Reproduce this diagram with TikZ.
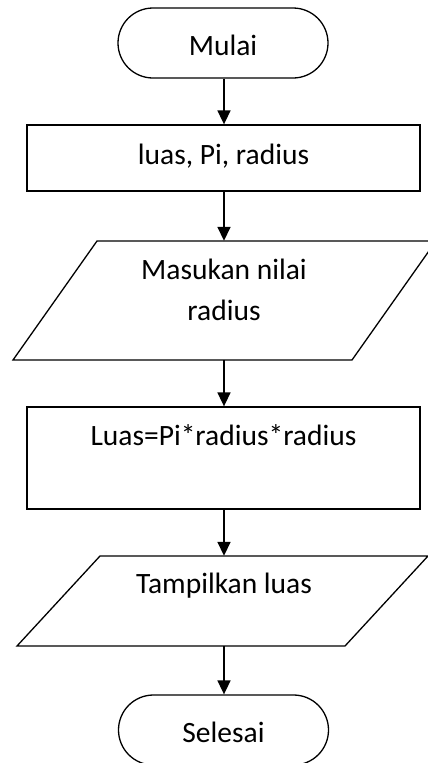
\documentclass[tikz,border=0pt]{standalone}
\usepackage{fontspec}
\setmainfont{Carlito}
\usetikzlibrary{arrows.meta}
\begin{document}
\begin{tikzpicture}[x=1pt,y=1pt,
  shape line/.style={draw=black,line width=1.3pt},
  term/.style={shape line,rectangle,rounded corners=35pt,minimum width=210pt,minimum height=70pt,inner sep=0pt},
  procbox/.style={shape line,rectangle,inner sep=0pt},
  ghost/.style={rectangle,inner sep=0pt},
  txt/.style={font=\fontsize{29.5}{41}\selectfont,align=center,inner sep=0pt},
  flow/.style={line width=1.7pt,-{Triangle[length=14pt,width=13pt]}}]
\useasboundingbox (0,0) rectangle (428,-763);
\clip (0,0) rectangle (428,-763);
\fill[white] (0,0) rectangle (428,-763);
% start
\node[term] (t1) at (223,-43) {};
\node[txt] at (223,-45) {Mulai};
% declaration
\node[procbox,minimum width=393pt,minimum height=66pt] (r1) at (223.5,-158) {};
\node[txt] at (223.5,-156) {luas, Pi, radius};
% input
\node[ghost,minimum width=339pt,minimum height=119pt] (p1) at (224,-300.5) {};
\draw[shape line] (97,-241) -- (436,-241) -- (352,-360) -- (13,-360) -- cycle;
\node[txt] at (224,-290) {Masukan nilai\\radius};
% process
\node[procbox,minimum width=393pt,minimum height=102pt] (r2) at (223.5,-458) {};
\node[txt] at (223.5,-435) {Luas=Pi*radius*radius};
% output
\node[ghost,minimum width=328pt,minimum height=90pt] (p2) at (224,-601) {};
\draw[shape line] (100,-556) -- (428,-556) -- (345,-646) -- (17,-646) -- cycle;
\node[txt] at (224,-586) {Tampilkan luas};
% end
\node[term] (t2) at (223.5,-730) {};
\node[txt] at (223.5,-732) {Selesai};
% arrows
\draw[flow] (t1.south -| 224,0) -- (r1.north -| 224,0);
\draw[flow] (r1.south -| 224,0) -- (p1.north -| 224,0);
\draw[flow] (p1.south -| 224,0) -- (r2.north -| 224,0);
\draw[flow] (r2.south -| 224,0) -- (p2.north -| 224,0);
\draw[flow] (p2.south -| 224,0) -- (t2.north -| 224,0);
\end{tikzpicture}
\end{document}
